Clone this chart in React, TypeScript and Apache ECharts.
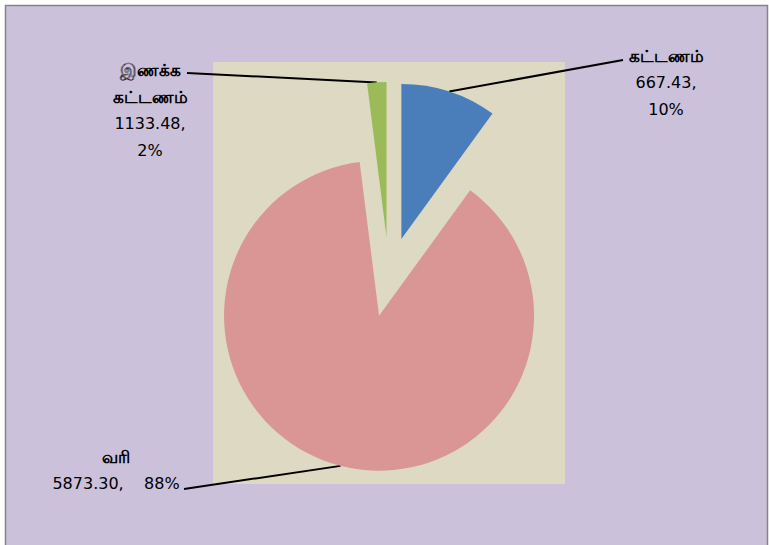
import React, { useEffect, useRef } from "react";
import * as echarts from "echarts";

// Data (clockwise from 12 o'clock)
const categories = ["கட்டணம்", "வரி", "இணக்க கட்டணம்"];
const valueLabels = ["667.43", "5873.30", "1133.48"];
const shares = [10, 88, 2];
const colors = ["#4A7EBB", "#D99694", "#9BBB59"];

// Layout (label anchors and leader-line ends, in pixels)
const pieCenter = [389, 277];
const pieRadius = 155;
const explode = 40;
const labelPos: number[][] = [
  [666, 82],
  [116, 470],
  [150, 110],
];
const leaderEnd: number[][] = [
  [623, 60],
  [184, 489],
  [187, 73],
];
const valueSep = ["\n", "    ", "\n"];

export default function App() {
  const ref = useRef<HTMLDivElement>(null);
  useEffect(() => {
    if (!ref.current) return;
    const chart = echarts.init(ref.current, undefined, { renderer: "svg" });
    const numFont = "'DejaVu Sans', 'Liberation Sans', sans-serif";
    const total = shares.reduce((a, b) => a + b, 0);
    let cum = 0;
    const series = shares.map((s, k) => {
      const mid = ((cum + s / 2) / total) * 2 * Math.PI;
      cum += s;
      const center = [
        pieCenter[0] + explode * Math.sin(mid),
        pieCenter[1] - explode * Math.cos(mid),
      ];
      return {
        type: "pie",
        center,
        radius: pieRadius,
        startAngle: 90,
        clockwise: true,
        silent: true,
        emphasis: { disabled: true },
        data: categories.map((n, i) => ({
          name: n,
          value: shares[i],
          itemStyle: { color: i === k ? colors[i] : "rgba(0,0,0,0)" },
          label: { show: i === k },
          labelLine: { show: i === k },
        })),
        label: {
          position: "outside",
          color: "#000",
          align: "center",
          formatter: (p: any) => {
            const nameLines = p.name.split(" ").map((t: string) => `{n|${t}}`);
            const vals = `${valueLabels[p.dataIndex]},${valueSep[p.dataIndex]}${Math.round(p.percent)}%`
              .split("\n")
              .map((t: string) => `{v|${t}}`);
            return [...nameLines, ...vals].join("\n");
          },
          rich: {
            n: {
              fontFamily: "'Noto Sans', sans-serif",
              fontWeight: "bold",
              fontSize: 17,
              lineHeight: 27,
              color: "#000",
              align: "center",
            },
            v: {
              fontFamily: numFont,
              fontSize: 16,
              lineHeight: 27,
              color: "#000",
              align: "center",
            },
          },
        },
        labelLine: {
          length: 5,
          length2: 5,
          lineStyle: { color: "#000", width: 2 },
        },
        labelLayout: (p: any) => {
          const i = p.dataIndex;
          if (i !== k) return {};
          const start = p.labelLinePoints ? p.labelLinePoints[0] : leaderEnd[i];
          return {
            x: labelPos[i][0],
            y: labelPos[i][1],
            align: "center",
            verticalAlign: "middle",
            labelLinePoints: [start, leaderEnd[i], leaderEnd[i]],
          };
        },
      };
    });
    chart.setOption({
      animation: false,
      backgroundColor: "#ffffff",
      graphic: [
        {
          type: "rect",
          z: -10,
          shape: { x: 5.5, y: 5.5, width: 762, height: 545 },
          style: { fill: "#CBC1DA", stroke: "#858585", lineWidth: 1.5 },
        },
        {
          type: "rect",
          z: -9,
          shape: { x: 213, y: 62, width: 352, height: 422 },
          style: { fill: "#DDD9C3" },
        },
      ],
      series,
    });
    return () => chart.dispose();
  }, []);
  return (
    <div
      ref={ref}
      style={{ position: "fixed", left: 0, top: 0, width: 769, height: 545 }}
    />
  );
}
